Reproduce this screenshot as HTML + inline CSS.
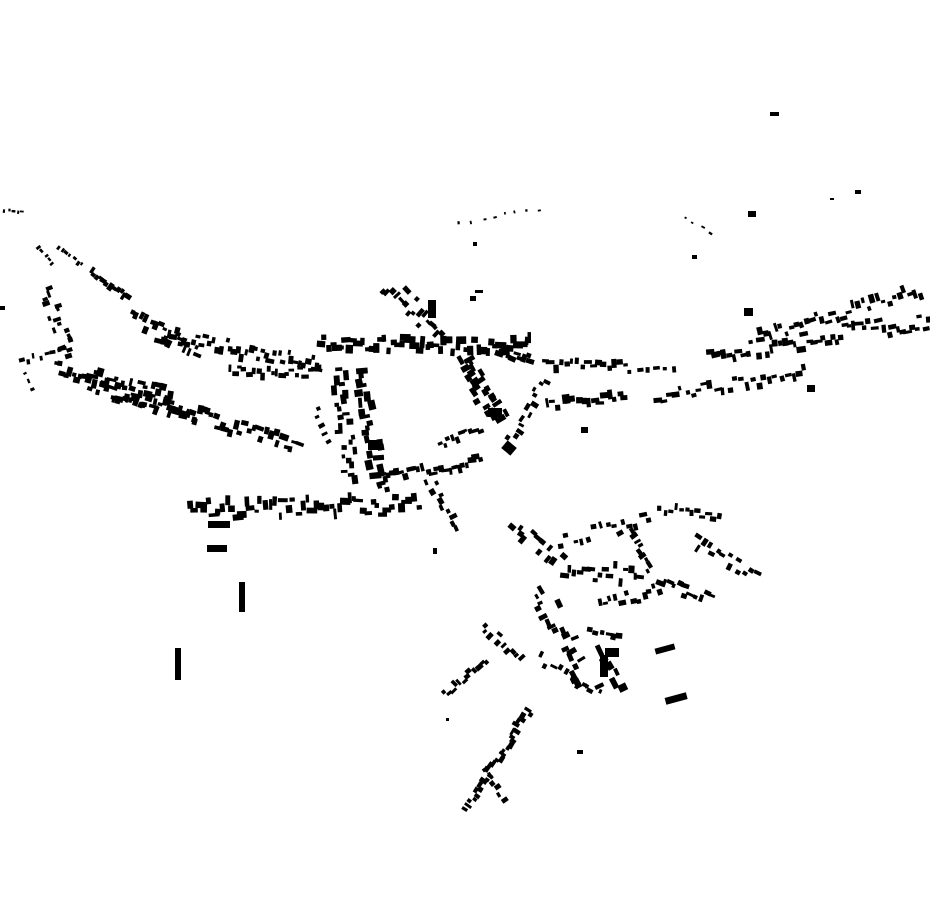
<!DOCTYPE html>
<html><head><meta charset="utf-8"><style>html,body{margin:0;padding:0;background:#fff;width:930px;height:924px;overflow:hidden}</style></head>
<body>
<svg id="m" width="930" height="924" viewBox="0 0 930 924" xmlns="http://www.w3.org/2000/svg">
<g fill="#000">
<rect x="770" y="112" width="9" height="4"/>
<rect x="748" y="211" width="8" height="6"/>
<rect x="855" y="190" width="6" height="4"/>
<rect x="830" y="198" width="4" height="2"/>
<rect x="744" y="308" width="9" height="8"/>
<rect x="807" y="385" width="8" height="7"/>
<rect x="581" y="427" width="7" height="6"/>
<rect x="692" y="255" width="5" height="4"/>
<rect x="470" y="296" width="6" height="5"/>
<rect x="475" y="290" width="8" height="3"/>
<rect x="473" y="242" width="4" height="4"/>
<rect x="0" y="306" width="5" height="4"/>
<rect x="239" y="582" width="6" height="30"/>
<rect x="175" y="648" width="6" height="32"/>
<rect x="665" y="695" width="22" height="7" transform="rotate(-15 676 698)"/>
<rect x="655" y="646" width="20" height="6" transform="rotate(-15 665 649)"/>
<rect x="503" y="443" width="12" height="10" transform="rotate(40 509 448)"/>
<rect x="577" y="750" width="6" height="4"/>
<rect x="446" y="718" width="3" height="3"/>
<rect x="433" y="548" width="4" height="6"/>
<rect x="428" y="300" width="8" height="18"/>
<rect x="207" y="545" width="20" height="7"/>
<rect x="208" y="521" width="22" height="7"/>
<rect x="600" y="655" width="8" height="22"/>
<rect x="605" y="648" width="14" height="9"/>
<rect x="488" y="408" width="14" height="9"/>
<rect x="368" y="440" width="12" height="10"/>
</g>
<g id="gen" fill="#000"></g>
</svg>
<script>
var seed=7;function r(){seed=(seed*16807)%2147483647;return (seed-1)/2147483646;}
var S=[
[0,210,22,212,6,3,2,4],
[38,248,52,264,5,3,3,5],
[58,247,82,265,7,3,3,5],
[92,270,128,296,12,8,4,8],
[45,290,70,355,16,14,4,8],
[22,360,65,352,8,8,3,6],
[25,372,32,388,3,3,3,5],
[130,318,200,350,18,16,4,9],
[160,335,320,365,40,16,4,9],
[230,372,320,372,20,10,4,8],
[55,370,170,395,32,16,4,11],
[90,385,300,445,50,16,4,10],
[115,395,200,415,16,14,4,9],
[320,345,530,345,50,16,5,12],
[340,370,350,480,24,16,4,10],
[362,370,380,490,24,16,5,12],
[380,480,480,460,24,12,4,9],
[440,445,480,430,10,12,4,8],
[462,360,500,420,24,20,5,11],
[500,350,530,360,10,10,4,9],
[388,285,440,335,18,20,4,9],
[430,480,455,530,10,10,4,9],
[315,410,330,440,5,10,4,7],
[190,510,420,505,50,18,4,11],
[510,440,545,380,12,10,4,8],
[545,365,625,365,16,10,4,9],
[548,405,625,398,16,10,4,10],
[630,370,675,368,6,4,4,7],
[658,398,805,372,26,12,4,9],
[710,355,930,320,48,18,4,10],
[760,335,920,290,32,14,4,9],
[460,222,540,210,8,4,2,4],
[686,218,710,232,4,3,2,4],
[515,525,560,560,12,14,4,9],
[560,540,650,520,14,14,4,8],
[660,510,720,515,12,10,4,8],
[540,590,590,690,22,22,4,10],
[565,570,640,575,16,18,4,10],
[590,630,620,635,6,8,4,9],
[600,605,660,590,12,12,4,8],
[660,580,710,600,12,14,4,9],
[695,540,755,575,14,14,4,8],
[625,530,650,570,10,12,4,8],
[600,650,620,690,6,10,5,12],
[485,625,520,660,10,10,4,8],
[445,695,485,660,12,8,4,8],
[540,660,600,690,10,12,4,8],
[530,710,465,808,30,8,4,8],
[485,770,505,800,6,6,4,8]
];
var g=document.getElementById('gen'),h='';
S.forEach(function(s){var dx=s[2]-s[0],dy=s[3]-s[1],L=Math.sqrt(dx*dx+dy*dy)||1,ang=Math.atan2(dy,dx)*180/Math.PI,nx=-dy/L,ny=dx/L;
for(var i=0;i<s[4];i++){var t=s[4]>1?i/(s[4]-1):0.5;t+=(r()-0.5)*0.5/s[4];var o=(r()-0.5)*s[5];
var x=s[0]+dx*t+nx*o,y=s[1]+dy*t+ny*o;var w=s[6]+r()*(s[7]-s[6]),hh=s[6]*0.7+r()*(s[7]-s[6])*0.6;
var a=ang+(r()<0.5?0:90)+(r()-0.5)*10;
h+='<rect x="'+(x-w/2).toFixed(1)+'" y="'+(y-hh/2).toFixed(1)+'" width="'+w.toFixed(1)+'" height="'+hh.toFixed(1)+'" transform="rotate('+a.toFixed(1)+' '+x.toFixed(1)+' '+y.toFixed(1)+')"/>';}});
g.innerHTML=h;
</script>
</body></html>
